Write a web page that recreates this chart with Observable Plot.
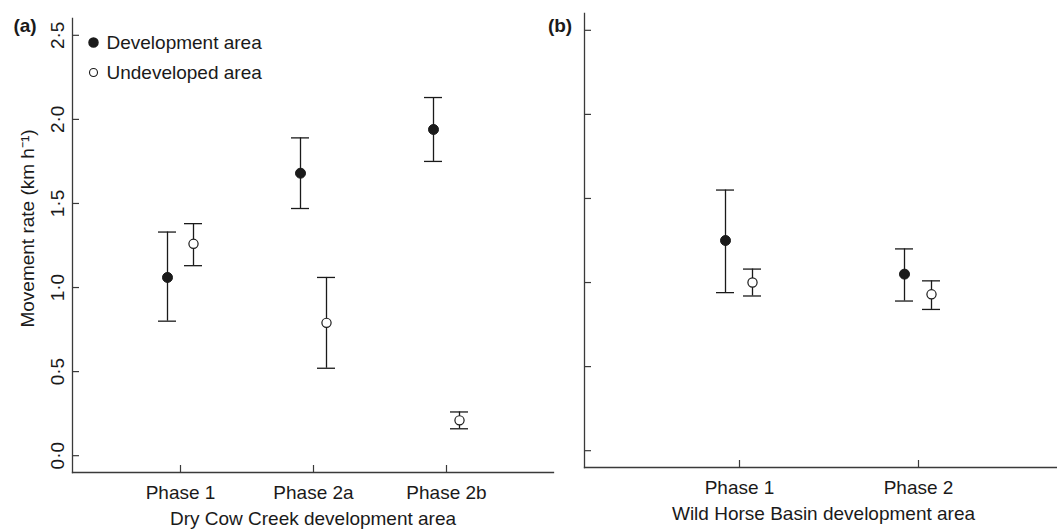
<!DOCTYPE html>
<html>
<head>
<meta charset="utf-8">
<script src="https://cdn.jsdelivr.net/npm/d3@7"></script>
<script src="https://cdn.jsdelivr.net/npm/@observablehq/plot@0.6"></script>
<style>
  html, body { margin: 0; padding: 0; background: #fff; }
  #wrap { position: relative; width: 1057px; height: 529px; overflow: hidden; }
  #wrap svg { position: absolute; top: 0; }
</style>
</head>
<body>
<div id="wrap"></div>
<script>
// ---- Data ----
const yTicks = [0, 0.5, 1.0, 1.5, 2.0, 2.5];

// Panel (a): Dry Cow Creek
const phasesA = ["Phase 1", "Phase 2a", "Phase 2b"];
const devMeanA = [1.06, 1.68, 1.94];
const devLoA = [0.80, 1.47, 1.75];
const devHiA = [1.33, 1.89, 2.13];
const undevMeanA = [1.26, 0.79, 0.21];
const undevLoA = [1.13, 0.52, 0.16];
const undevHiA = [1.38, 1.06, 0.26];

// Panel (b): Wild Horse Basin
const phasesB = ["Phase 1", "Phase 2"];
const devMeanB = [1.25, 1.05];
const devLoB = [0.94, 0.89];
const devHiB = [1.55, 1.20];
const undevMeanB = [1.00, 0.93];
const undevLoB = [0.92, 0.84];
const undevHiB = [1.08, 1.01];

const seriesNames = ["Development area", "Undeveloped area"];

// ---- helpers ----
const font = "'Liberation Sans', Arial, Helvetica, sans-serif";
const ink = "#1a1a1a";
const axisInk = "#3a3a3a";
const fmt = d => d3.format(".1f")(d).replace(".", "\u00B7");

function rows(phases, mean, lo, hi) {
  return phases.map((p, i) => ({phase: p, mean: mean[i], lo: lo[i], hi: hi[i]}));
}

function seriesMarks(data, dx, filled) {
  return [
    Plot.ruleX(data, {x: "phase", y1: "lo", y2: "hi", dx, stroke: ink, strokeWidth: 1.3}),
    Plot.ruleY(data, {y: "lo", x1: "phase", x2: "phase", dx, insetLeft: -9, insetRight: -9, stroke: ink, strokeWidth: 1.3}),
    Plot.ruleY(data, {y: "hi", x1: "phase", x2: "phase", dx, insetLeft: -9, insetRight: -9, stroke: ink, strokeWidth: 1.3}),
    Plot.dot(data, {x: "phase", y: "mean", dx, r: filled ? 5 : 4.6, fill: filled ? ink : "white", stroke: ink, strokeWidth: filled ? 1 : 1.2})
  ];
}

function panel({phases, dev, undev, width, marginLeft, marginRight, marginTop, marginBottom, xOpts, xTitle, xTitleDx, dxDev, dxUndev, letter, letterDx, letterDy, showYLabels}) {
  const marks = [
    Plot.frame({anchor: "left", stroke: axisInk, strokeWidth: 1.3}),
    Plot.frame({anchor: "bottom", stroke: axisInk, strokeWidth: 1.3}),
    Plot.axisY({ticks: yTicks, tickSize: -7, tickFormat: () => "", label: null, stroke: axisInk, strokeWidth: 1.2}),
    Plot.axisX({tickSize: -7, tickPadding: 19.5, label: null, fontSize: 19, fill: ink, stroke: axisInk, strokeWidth: 1.2}),
    Plot.text([xTitle], {frameAnchor: "bottom", dx: xTitleDx, dy: 52, lineAnchor: "bottom", textAnchor: "middle", fontSize: 19, fill: ink}),
    Plot.text([letter], {frameAnchor: "top-left", dx: letterDx, dy: letterDy, lineAnchor: "bottom", textAnchor: "middle", fontSize: 19, fontWeight: "bold", fill: ink}),
    ...seriesMarks(dev, dxDev, true),
    ...seriesMarks(undev, dxUndev, false)
  ];
  if (showYLabels) {
    marks.push(
      Plot.text(yTicks, {y: d => d, text: fmt, frameAnchor: "left", dx: -9, rotate: -90, textAnchor: "middle", lineAnchor: "bottom", fontSize: 19, fill: ink}),
      Plot.text(["Movement rate (km h\u207B\u00B9)"], {frameAnchor: "left", dx: -39, dy: -17, rotate: -90, textAnchor: "middle", lineAnchor: "bottom", fontSize: 19, fill: ink}),
      // legend
      Plot.dot([seriesNames[0]], {frameAnchor: "top-left", dx: 21, dy: 24, r: 4.5, fill: ink, stroke: ink}),
      Plot.text([seriesNames[0]], {frameAnchor: "top-left", dx: 34, dy: 24, textAnchor: "start", lineAnchor: "middle", fontSize: 19, fill: ink}),
      Plot.dot([seriesNames[1]], {frameAnchor: "top-left", dx: 21, dy: 54, r: 4, fill: "white", stroke: ink, strokeWidth: 1.1}),
      Plot.text([seriesNames[1]], {frameAnchor: "top-left", dx: 34, dy: 54, textAnchor: "start", lineAnchor: "middle", fontSize: 19, fill: ink})
    );
  }
  return Plot.plot({
    width, height: 529, marginLeft, marginRight, marginTop, marginBottom,
    style: {fontFamily: font, fontSize: "19px", background: "transparent", overflow: "visible", color: ink},
    x: {type: "point", domain: phases, ...xOpts},
    y: {domain: [-0.1, 2.6]},
    marks
  });
}

const left = panel({
  phases: phasesA,
  dev: rows(phasesA, devMeanA, devLoA, devHiA),
  undev: rows(phasesA, undevMeanA, undevLoA, undevHiA),
  width: 560, marginLeft: 72, marginRight: 7, marginTop: 18, marginBottom: 57,
  xOpts: {padding: 0.8},
  xTitle: "Dry Cow Creek development area", xTitleDx: 0,
  dxDev: -13, dxUndev: 13,
  letter: "(a)", letterDx: -47.5, letterDy: 13,
  showYLabels: true
});
left.style.left = "0px";

const right = panel({
  phases: phasesB,
  dev: rows(phasesB, devMeanB, devLoB, devHiB),
  undev: rows(phasesB, undevMeanB, undevLoB, undevHiB),
  width: 517, marginLeft: 44, marginRight: 0, marginTop: 13, marginBottom: 62,
  xOpts: {padding: 0.814, align: 0.526},
  xTitle: "Wild Horse Basin development area", xTitleDx: 2.5,
  dxDev: -14, dxUndev: 13,
  letter: "(b)", letterDx: -24.5, letterDy: 18,
  showYLabels: false
});
right.style.left = "540px";

const wrap = document.getElementById("wrap");
wrap.appendChild(left);
wrap.appendChild(right);
</script>
</body>
</html>
